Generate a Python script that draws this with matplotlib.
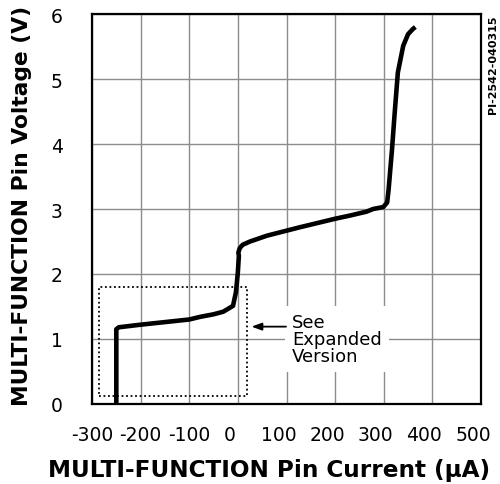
import matplotlib
matplotlib.use("Agg")
import matplotlib.pyplot as plt
import matplotlib.transforms as mtransforms
from matplotlib.patches import Rectangle

# pin current (uA) vs pin voltage (V)
current_ua = [-250, -250, -245, -200, -150, -100, -78, -50, -30, -10, -4, 0, 2, 1,
              4, 10, 25, 60, 128, 200, 231, 265, 278, 299, 307, 310, 317, 322,
              329, 340, 350, 360, 365]
voltage_v = [0.0, 1.15, 1.18, 1.22, 1.26, 1.30, 1.34, 1.38, 1.42, 1.51, 1.72, 2.03,
             2.28, 2.33, 2.40, 2.45, 2.50, 2.59, 2.72, 2.85, 2.90, 2.96, 3.00, 3.03,
             3.10, 3.30, 3.92, 4.43, 5.10, 5.51, 5.69, 5.77, 5.80]

x_ticks = [-300, -200, -100, 0, 100, 200, 300, 400, 500]
y_ticks = [0, 1, 2, 3, 4, 5, 6]

# dotted "expanded" window: (x0, y0, x1, y1)
zoom_box = (-285, 0.12, 19, 1.80)

fig = plt.figure(figsize=(5.0, 4.85), dpi=100)
ax = fig.add_axes([0.184, 0.165, 0.778, 0.804])

ax.plot(current_ua, voltage_v, color="black", linewidth=3.3,
        solid_capstyle="butt", solid_joinstyle="round", zorder=4)

x0, y0, x1, y1 = zoom_box
ax.add_patch(Rectangle((x0, y0), x1 - x0, y1 - y0, fill=False,
                       edgecolor="black", linestyle=(0, (1, 1.5)),
                       linewidth=1.3, zorder=3))

# note with white backing that breaks the grid, plus its arrow
ax.text(111, 1.0, "See\nExpanded\nVersion", fontsize=13, ha="left", va="center",
        linespacing=0.92, zorder=5,
        bbox=dict(boxstyle="square,pad=0.4", facecolor="white", edgecolor="none"))
ax.annotate("", xy=(28, 1.19), xytext=(99, 1.19),
            arrowprops=dict(arrowstyle="-|>,head_length=0.6,head_width=0.22",
                            color="black", linewidth=1.3, shrinkA=0, shrinkB=0),
            zorder=6)

ax.set_xlim(-300, 500)
ax.set_ylim(0, 6)
ax.set_xticks(x_ticks)
ax.set_yticks(y_ticks)
ax.set_xticklabels([str(v) for v in x_ticks])
ax.grid(True, color="#8c8c8c", linewidth=1.0)
ax.set_axisbelow(True)
ax.tick_params(axis="both", length=0, labelsize=13.5)
ax.tick_params(axis="y", pad=21)
ax.tick_params(axis="x", pad=15)
for sp in ax.spines.values():
    sp.set_linewidth(1.6)

# positive labels sit a bit left of their gridlines in the original
for val, lab in zip(x_ticks, ax.get_xticklabels()):
    if val >= 0:
        lab.set_transform(lab.get_transform() +
                          mtransforms.ScaledTranslation(-8 / 100, 0, fig.dpi_scale_trans))

ax.set_xlabel("MULTI-FUNCTION Pin Current (\u03bcA)", fontsize=16.7, fontweight="bold")
ax.set_ylabel("MULTI-FUNCTION Pin Voltage (V)", fontsize=15.7, fontweight="bold")
ax.xaxis.set_label_coords(0.454, -0.138)
ax.yaxis.set_label_coords(-0.155, 0.51)

fig.text(0.986, 0.969, "PI-2542-040315", rotation=90, fontsize=8,
         fontweight="bold", ha="center", va="top")

fig.savefig("out.png", dpi=100)
